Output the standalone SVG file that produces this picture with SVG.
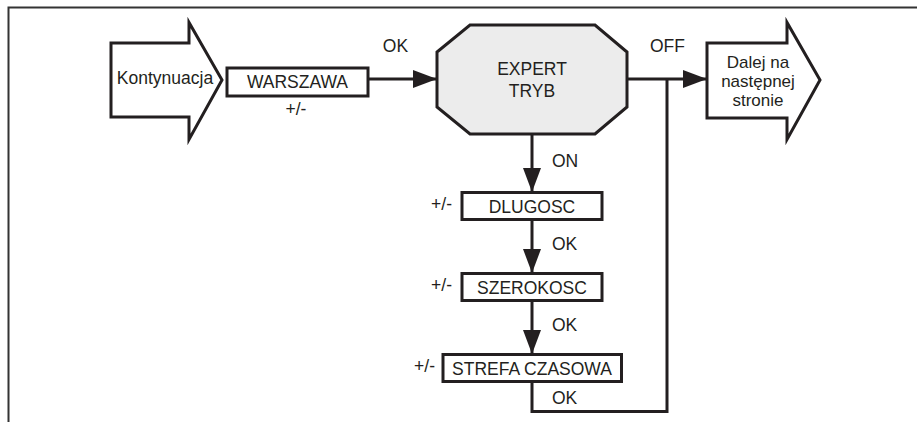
<svg xmlns="http://www.w3.org/2000/svg" width="917" height="422" viewBox="0 0 917 422">
<style>
text{font-family:"Liberation Sans",Arial,Helvetica,sans-serif;font-size:17.5px;fill:#231f20}
.c{text-anchor:middle}
.e{text-anchor:end}
.s{font-size:17px}
.box{fill:#fff;stroke:#231f20;stroke-width:3}
.conn{fill:none;stroke:#231f20;stroke-width:3}
.frame{fill:none;stroke:#333;stroke-width:2}
</style>
<defs>
<marker id="ah" viewBox="0 0 24 18" refX="24" refY="9" markerWidth="24" markerHeight="18" markerUnits="userSpaceOnUse" orient="auto">
<path d="M0,0 L24,9 L0,18 Z" fill="#231f20"/>
</marker>
</defs>
<rect width="917" height="422" fill="#fff"/>
<path class="frame" d="M8.5,422 V7.5 H917"/>

<g id="connectors">
<path class="conn" d="M368,79 H437" marker-end="url(#ah)"/>
<path class="conn" d="M627,79 H707" marker-end="url(#ah)"/>
<path class="conn" d="M532,134 V192" marker-end="url(#ah)"/>
<path class="conn" d="M532,219 V273" marker-end="url(#ah)"/>
<path class="conn" d="M532,301 V354" marker-end="url(#ah)"/>
<path class="conn" d="M532,382 V411.5 H667 V79"/>
<text x="395.5" y="52" class="c">OK</text>
<text x="296" y="115" class="c">+/-</text>
<text x="667.5" y="52" class="c">OFF</text>
<text x="552" y="167">ON</text>
<text x="452" y="210" class="e">+/-</text>
<text x="552" y="250">OK</text>
<text x="452" y="291" class="e">+/-</text>
<text x="552" y="331">OK</text>
<text x="435" y="372" class="e">+/-</text>
<text x="552" y="404">OK</text>
</g>

<g id="kontynuacja">
<polygon class="box" points="111,43 189,43 189,22.5 222,80 189,139.5 189,117 111,117"/>
<text x="165" y="84" class="c">Kontynuacja</text>
</g>

<g id="warszawa">
<rect class="box" x="227" y="68" width="141" height="28"/>
<text x="297.5" y="88" class="c">WARSZAWA</text>
</g>

<g id="expert">
<polygon points="470,25 595,25 627,52 627,107 595,134 470,134 437,107 437,52" fill="#ececec" stroke="#231f20" stroke-width="3"/>
<text x="532" y="75" class="c">EXPERT</text>
<text x="532" y="97" class="c">TRYB</text>
</g>

<g id="dalej">
<polygon class="box" points="707,43 787,43 787,22.5 820,80 787,139.5 787,118 707,118"/>
<text x="758" y="68" class="c s">Dalej na</text>
<text x="758" y="87" class="c s">następnej</text>
<text x="758" y="106" class="c s">stronie</text>
</g>

<g id="dlugosc">
<rect class="box" x="462" y="192.5" width="140" height="27"/>
<text x="532" y="213" class="c">DLUGOSC</text>
</g>

<g id="szerokosc">
<rect class="box" x="462" y="273.5" width="140" height="27"/>
<text x="532" y="293.5" class="c">SZEROKOSC</text>
</g>

<g id="strefa">
<rect class="box" x="443" y="354.5" width="178.5" height="27"/>
<text x="532" y="375" class="c">STREFA CZASOWA</text>
</g>
</svg>
